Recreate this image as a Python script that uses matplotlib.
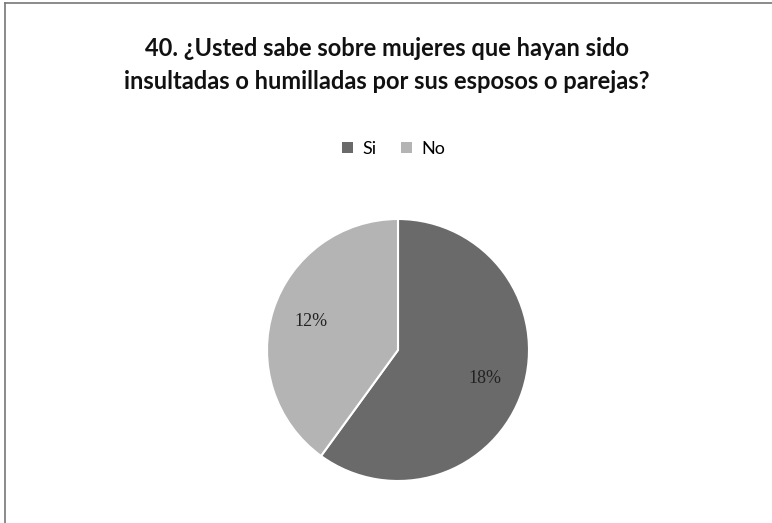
import matplotlib
matplotlib.use("Agg")
import matplotlib.pyplot as plt
from matplotlib.lines import Line2D
from matplotlib.patches import Patch

categories = ["Si", "No"]
values = [18, 12]
labels = ["18%", "12%"]
colors = ["#6a6a6a", "#b4b4b4"]

title = "40. ¿Usted sabe sobre mujeres que hayan sido\ninsultadas o humilladas por sus esposos o parejas?"

fig = plt.figure(figsize=(7.72, 5.23), dpi=100)
fig.patch.set_facecolor("white")

# frame lines (left and top)
fig.add_artist(Line2D([5/772, 5/772], [0, 1 - 3/523], color="#777777", lw=1.2))
fig.add_artist(Line2D([5/772, 1], [1 - 3/523, 1 - 3/523], color="#777777", lw=1.2))

fig.text(0.501, 1 - 65/523, title, ha="center", va="center", fontsize=17,
         fontweight="bold", family=["Lato", "DejaVu Sans"],
         linespacing=1.5, color="#111111")

# pie axes
cx, cy, r = 398, 350, 131
ax = fig.add_axes([(cx - r)/772, 1 - (cy + r)/523, 2*r/772, 2*r/523])
wedges, texts = ax.pie(values, colors=colors, startangle=90, counterclock=False,
                       wedgeprops=dict(edgecolor="white", linewidth=1.5),
                       labels=labels, labeldistance=0.70,
                       textprops=dict(fontsize=13, family="Liberation Serif", color="#222222"))
for t in texts:
    t.set_ha("center")
    t.set_va("center")
ax.set_aspect("auto")
ax.set_xlim(-1, 1)
ax.set_ylim(-1, 1)

leg = fig.legend(handles=[Patch(facecolor=c, edgecolor="none") for c in colors],
                 labels=categories, loc="center", bbox_to_anchor=(0.51, 1 - 149/523),
                 ncol=2, frameon=False, handlelength=0.6, handleheight=0.6,
                 columnspacing=1.4, handletextpad=0.5,
                 prop=dict(family="Lato", size=13))

fig.savefig("out.png", dpi=100)
